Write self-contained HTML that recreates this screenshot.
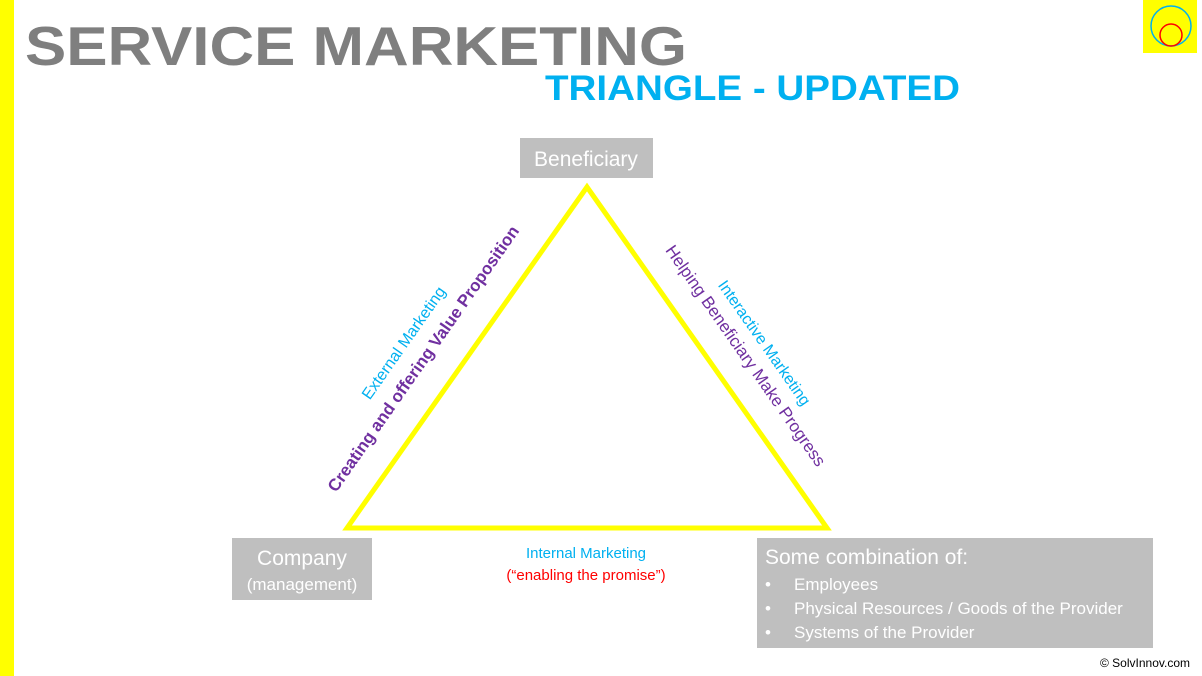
<!DOCTYPE html>
<html><head><meta charset="utf-8"><style>
body{margin:0;width:1202px;height:676px;overflow:hidden;background:#fff;font-family:"Liberation Sans",sans-serif}
</style></head><body>
<svg width="1202" height="676" xmlns="http://www.w3.org/2000/svg" style="position:absolute;left:0;top:0">
<rect x="0" y="0" width="14" height="676" fill="#ffff00"/>
<rect x="1143" y="0" width="54" height="53" fill="#ffff00"/>
<circle cx="1171" cy="26" r="20" fill="none" stroke="#00b0f0" stroke-width="1.5"/>
<circle cx="1171" cy="35" r="11" fill="none" stroke="#ff0000" stroke-width="1.5"/>
<text x="25" y="65" font-family="Liberation Sans" font-weight="bold" font-size="55" fill="#7f7f7f" textLength="662" lengthAdjust="spacingAndGlyphs">SERVICE MARKETING</text>
<text x="545" y="100" font-family="Liberation Sans" font-weight="bold" font-size="35" fill="#00b0f0" textLength="415" lengthAdjust="spacingAndGlyphs">TRIANGLE - UPDATED</text>
<polygon points="587,187 347,528 827,528" fill="none" stroke="#ffff00" stroke-width="5" stroke-linejoin="miter"/>
<rect x="520" y="138" width="133" height="40" fill="#bfbfbf"/>
<text x="586" y="166" text-anchor="middle" font-size="21" fill="#fff">Beneficiary</text>
<rect x="232" y="538" width="140" height="62" fill="#bfbfbf"/>
<text x="302" y="565" text-anchor="middle" font-size="21" fill="#fff">Company</text>
<text x="302" y="590" text-anchor="middle" font-size="17" fill="#fff">(management)</text>
<rect x="757" y="538" width="396" height="110" fill="#bfbfbf"/>
<text x="765" y="564" font-size="21" fill="#fff">Some combination of:</text>
<g font-size="17" fill="#fff">
<text x="765" y="590">•</text><text x="794" y="590">Employees</text>
<text x="765" y="614">•</text><text x="794" y="614">Physical Resources / Goods of the Provider</text>
<text x="765" y="638">•</text><text x="794" y="638">Systems of the Provider</text>
</g>
<text x="586" y="558" text-anchor="middle" font-size="15" fill="#00b0f0">Internal Marketing</text>
<text x="586" y="580" text-anchor="middle" font-size="15" fill="#ff0000">(“enabling the promise”)</text>
<text transform="translate(408,346) rotate(-55)" text-anchor="middle" font-size="16" fill="#00b0f0">External Marketing</text>
<text transform="translate(428,362) rotate(-55)" text-anchor="middle" font-size="17" font-weight="bold" fill="#7030a0">Creating and offering Value Proposition</text>
<text transform="translate(760,346) rotate(55)" text-anchor="middle" font-size="16" fill="#00b0f0">Interactive Marketing</text>
<text transform="translate(741,359) rotate(55)" text-anchor="middle" font-size="17" fill="#7030a0">Helping Beneficiary Make Progress</text>
<text x="1190" y="667" text-anchor="end" font-size="12" fill="#000">© SolvInnov.com</text>
</svg>
</body></html>
